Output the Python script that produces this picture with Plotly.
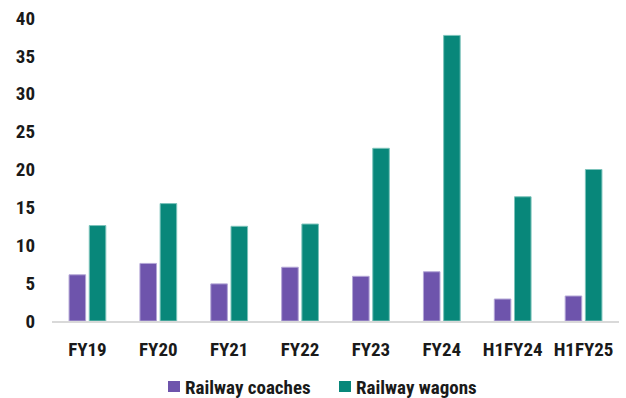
import plotly.graph_objects as go

categories = ["FY19", "FY20", "FY21", "FY22", "FY23", "FY24", "H1FY24", "H1FY25"]
coaches = [6.1, 7.6, 4.9, 7.1, 5.9, 6.5, 2.9, 3.3]
wagons = [12.6, 15.5, 12.5, 12.8, 22.8, 37.7, 16.4, 20.0]

series_names = ["Railway coaches", "Railway wagons"]
series_colors = ["#6E54AC", "#08877A"]
edge_colors = ["#B3A6D6", "#7CC3BB"]

FONT = "Liberation Sans Narrow, Arial Narrow, Roboto Condensed, sans-serif"
W, H = 626, 398

fig = go.Figure()
for name, vals, col, edge in zip(series_names, [coaches, wagons], series_colors, edge_colors):
    fig.add_trace(go.Bar(
        name=name, x=categories, y=vals,
        marker=dict(color=col, line=dict(color=edge, width=1)),
    ))

# Legend drawn as square swatches with labels, centred below the axis
legend_x = [168, 339]
for i, (name, col) in enumerate(zip(series_names, series_colors)):
    x0 = legend_x[i]
    fig.add_shape(
        type="rect", xref="paper", yref="paper",
        x0=(x0 - 52) / (W - 59), x1=(x0 + 12 - 52) / (W - 59),
        y0=-(392 - 321) / 303, y1=-(381 - 321) / 303,
        fillcolor=col, line=dict(width=0),
    )
    fig.add_annotation(
        xref="paper", yref="paper",
        x=(x0 + 15 - 52) / (W - 59), y=-(387 - 321) / 303,
        xanchor="left", yanchor="middle", showarrow=False,
        text=f"<b>{name}</b>", font=dict(family=FONT, size=19, color="#1a1a1a"),
    )

fig.update_layout(
    width=W, height=H,
    margin=dict(l=52, r=7, t=18, b=77),
    paper_bgcolor="white", plot_bgcolor="white",
    barmode="group", bargap=0.43, bargroupgap=0.18,
    font=dict(family=FONT, size=19, color="#1a1a1a"),
    showlegend=False,
    xaxis=dict(
        showgrid=False, showline=True, linecolor="#D9D9D9", linewidth=2,
        ticks="", tickfont=dict(family=FONT, size=19, weight="bold"),
        ticklabelstandoff=10, fixedrange=True,
    ),
    yaxis=dict(
        range=[0, 40], dtick=5, showgrid=False, zeroline=False, showline=False,
        ticks="", tickfont=dict(family=FONT, size=19, weight="bold"),
        ticklabelstandoff=16, fixedrange=True,
    ),
)

fig.write_html("out.html")
